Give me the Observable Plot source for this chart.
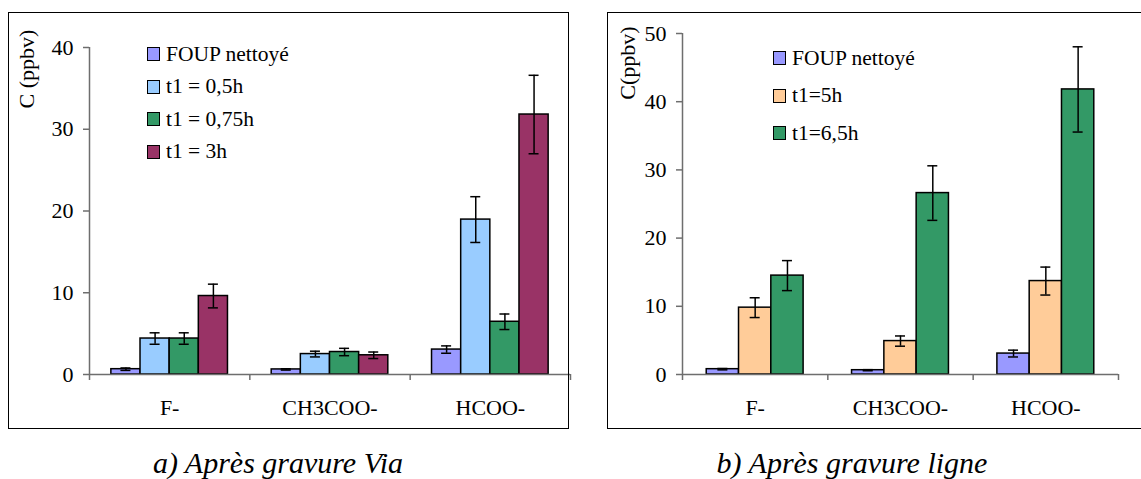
<!DOCTYPE html>
<html><head><meta charset="utf-8">
<script src="https://cdn.jsdelivr.net/npm/d3@7"></script>
<script src="https://cdn.jsdelivr.net/npm/@observablehq/plot@0.6"></script>
<style>
html,body{margin:0;padding:0;background:#fff;width:1141px;height:479px;overflow:hidden;font-family:"Liberation Serif","Times New Roman",serif;color:#000;}
#root{position:relative;width:1141px;height:479px;}
.abs{position:absolute;}
.frame{position:absolute;border:1.6px solid #000;box-sizing:border-box;pointer-events:none;}
.ylab{position:absolute;font-family:"Liberation Serif",serif;font-size:22px;white-space:nowrap;transform:translate(-50%,-50%) rotate(-90deg);}
.leg{position:absolute;display:flex;align-items:center;height:24px;font-family:"Liberation Serif",serif;font-size:21.5px;white-space:nowrap;}
.sw{width:13px;height:14px;border:1.5px solid #000;box-sizing:border-box;margin-right:6px;}
.cap{position:absolute;font-family:"Liberation Serif",serif;font-size:30px;font-style:italic;white-space:nowrap;transform:translate(-50%,-50%);}
</style></head><body>
<div id="root"></div>
<script>
// ---------- data ----------
const categories = ["F-", "CH3COO-", "HCOO-"];

// panel a) Après gravure Via
const seriesA = ["FOUP nettoyé", "t1 = 0,5h", "t1 = 0,75h", "t1 = 3h"];
const colorsA = ["#9999FF", "#99CCFF", "#339966", "#993366"];
const valuesA = [
  [0.65, 0.62, 3.05],
  [4.4, 2.5, 18.95],
  [4.4, 2.75, 6.45],
  [9.6, 2.35, 31.8]
];
const errorsA = [
  [0.15, 0.08, 0.45],
  [0.7, 0.35, 2.8],
  [0.7, 0.45, 0.95],
  [1.45, 0.4, 4.8]
];
const ticksA = [0, 10, 20, 30, 40];

// panel b) Après gravure ligne
const seriesB = ["FOUP nettoyé", "t1=5h", "t1=6,5h"];
const colorsB = ["#9999FF", "#FFCC99", "#339966"];
const valuesB = [
  [0.78, 0.63, 3.07],
  [9.8, 4.9, 13.7],
  [14.5, 26.6, 41.8]
];
const errorsB = [
  [0.1, 0.08, 0.5],
  [1.45, 0.75, 2.05],
  [2.2, 4.0, 6.25]
];
const ticksB = [0, 10, 20, 30, 40, 50];

const yLabelA = "C (ppbv)";
const yLabelB = "C(ppbv)";
const captionA = "a) Après gravure Via";
const captionB = "b) Après gravure ligne";

// ---------- drawing ----------
const root = document.getElementById("root");
const axisColor = "#6e6e6e";

function panel(cfg) {
  const n = cfg.series.length;
  const w = 1 / (n + 1.5);           // Excel-like gap width 150%
  const rows = [];
  cfg.series.forEach((s, si) => cfg.categories.forEach((c, ci) => {
    const x1 = ci - n * w / 2 + si * w;
    rows.push({series: s, x1, x2: x1 + w, xc: x1 + w / 2, v: cfg.values[si][ci], e: cfg.errors[si][ci]});
  }));
  const nc = cfg.categories.length;
  const bounds = d3.range(nc + 1).map(i => i - 0.5);
  const svg = Plot.plot({
    width: cfg.width, height: cfg.height,
    marginLeft: cfg.ml, marginRight: cfg.mr, marginTop: cfg.mt, marginBottom: cfg.mb,
    style: {background: "transparent", overflow: "visible", fontFamily: "'Liberation Serif', 'Times New Roman', serif", color: "#000"},
    x: {domain: [-0.5, nc - 0.5], axis: null},
    y: {domain: [0, cfg.ticks[cfg.ticks.length - 1]], axis: null},
    color: {domain: cfg.series, range: cfg.colors},
    marks: [
      Plot.rect(rows, {x1: "x1", x2: "x2", y1: 0, y2: "v", fill: "series", stroke: "#000", strokeWidth: 1.5}),
      Plot.ruleX(rows, {x: "xc", y1: d => d.v - d.e, y2: d => d.v + d.e, stroke: "#000", strokeWidth: 1.5}),
      Plot.ruleY(rows, {y: d => d.v + d.e, x1: "xc", x2: "xc", insetLeft: -5, insetRight: -5, stroke: "#000", strokeWidth: 1.5}),
      Plot.ruleY(rows, {y: d => d.v - d.e, x1: "xc", x2: "xc", insetLeft: -5, insetRight: -5, stroke: "#000", strokeWidth: 1.5}),
      Plot.ruleY([0], {stroke: axisColor, strokeWidth: 1.5}),
      Plot.ruleX([-0.5], {stroke: axisColor, strokeWidth: 1.5}),
      Plot.axisY({ticks: cfg.ticks, tickSize: 6, tickPadding: 10, fontSize: 22, label: null, stroke: axisColor, strokeWidth: 1.5}),
      Plot.axisX({ticks: bounds, tickSize: 6, tickFormat: () => "", label: null, stroke: axisColor, strokeWidth: 1.5}),
      Plot.axisX({ticks: d3.range(nc), tickSize: 0, tickPadding: 25, tickFormat: i => cfg.categories[i], fontSize: 22, label: null})
    ]
  });
  const holder = document.createElement("div");
  holder.className = "abs";
  holder.style.left = cfg.left + "px";
  holder.style.top = cfg.top + "px";
  holder.style.width = cfg.width + "px";
  holder.style.height = cfg.height + "px";
  holder.appendChild(svg);
  root.appendChild(holder);

  // legend
  cfg.series.forEach((s, i) => {
    const row = document.createElement("div");
    row.className = "leg";
    row.style.left = cfg.legX + "px";
    row.style.top = (cfg.legY + i * cfg.legStep - 12) + "px";
    const sw = document.createElement("div");
    sw.className = "sw";
    sw.style.background = cfg.colors[i];
    const t = document.createElement("span");
    t.textContent = s;
    row.appendChild(sw); row.appendChild(t);
    root.appendChild(row);
  });

  // y label
  const yl = document.createElement("div");
  yl.className = "ylab";
  yl.style.left = cfg.ylX + "px";
  yl.style.top = cfg.ylY + "px";
  yl.textContent = cfg.yLabel;
  root.appendChild(yl);

  // frame
  const fr = document.createElement("div");
  fr.className = "frame";
  fr.style.left = cfg.frame[0] + "px";
  fr.style.top = cfg.frame[1] + "px";
  fr.style.width = cfg.frame[2] + "px";
  fr.style.height = cfg.frame[3] + "px";
  root.appendChild(fr);

  // caption
  const cp = document.createElement("div");
  cp.className = "cap";
  cp.style.left = cfg.capX + "px";
  cp.style.top = "463px";
  cp.textContent = cfg.caption;
  root.appendChild(cp);
}

panel({
  categories, series: seriesA, colors: colorsA, values: valuesA, errors: errorsA, ticks: ticksA,
  left: 0, top: 0, width: 580, height: 430, ml: 89, mr: 10, mt: 47, mb: 56,
  legX: 147, legY: 54, legStep: 32.6,
  yLabel: yLabelA, ylX: 27, ylY: 69,
  frame: [8, 12, 561, 417],
  caption: captionA, capX: 278
});

panel({
  categories, series: seriesB, colors: colorsB, values: valuesB, errors: errorsB, ticks: ticksB,
  left: 600, top: 0, width: 541, height: 430, ml: 82, mr: 23, mt: 33, mb: 56,
  legX: 773, legY: 58, legStep: 37.7,
  yLabel: yLabelB, ylX: 628, ylY: 63,
  frame: [607, 12, 560, 417],
  caption: captionB, capX: 852
});
</script>
</body></html>
